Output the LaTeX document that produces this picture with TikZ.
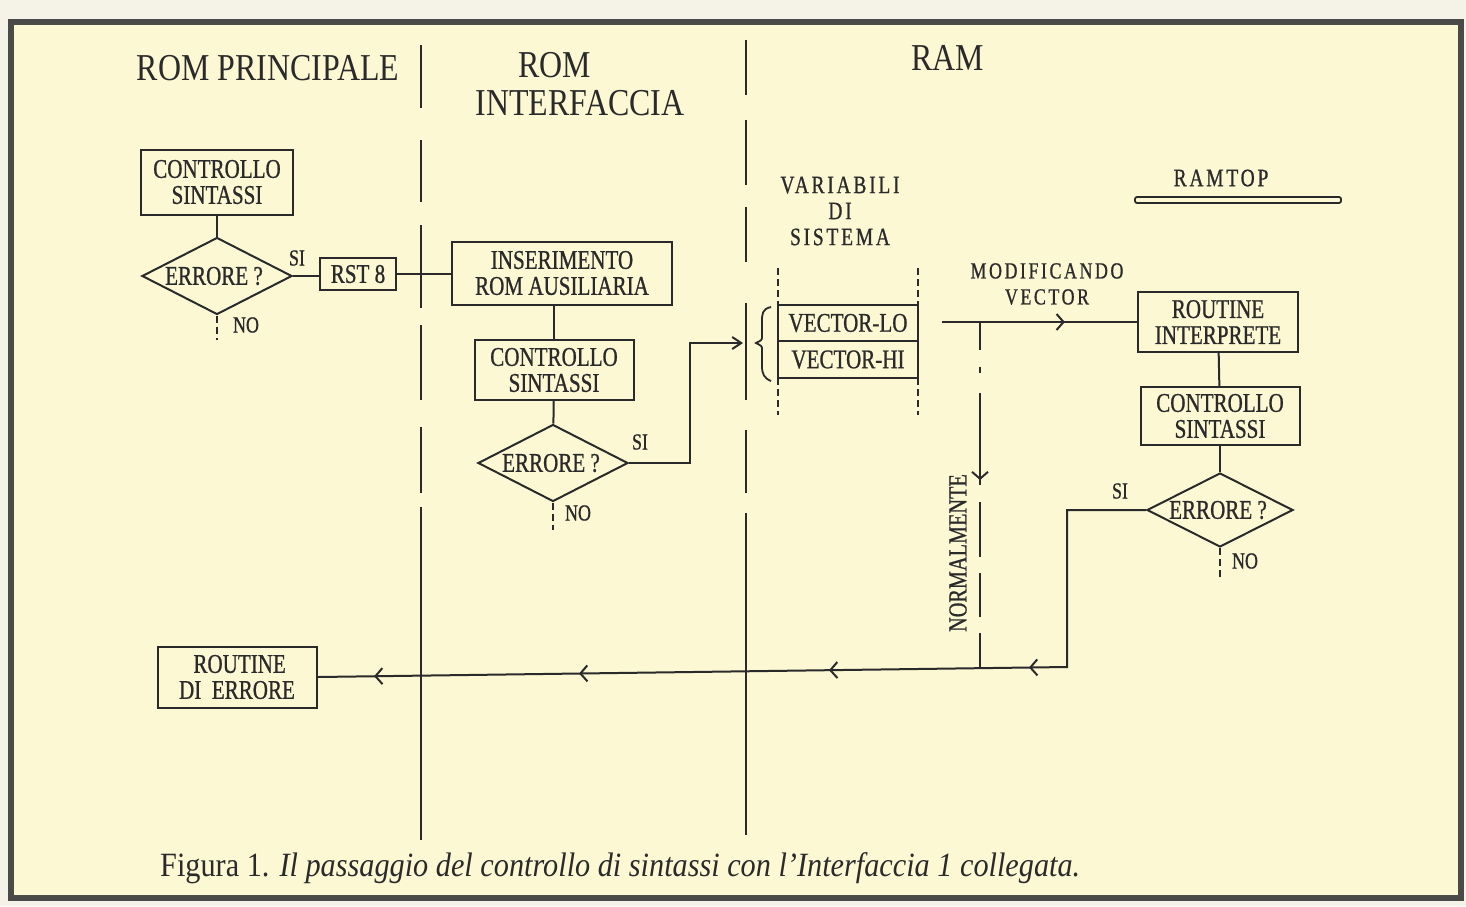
\documentclass[tikz,border=0pt]{standalone}
\usepackage{fontspec}
\setmainfont{Liberation Serif}
\newfontfamily\boxfont[FakeStretch=0.78,FakeBold=0.8]{Liberation Serif}
\newfontfamily\spacedfont[FakeStretch=0.78,FakeBold=0.8,LetterSpace=11]{Liberation Serif}
\newfontfamily\headfont[FakeStretch=0.84]{Liberation Serif}
\newfontfamily\capfont[FakeStretch=0.89]{Liberation Serif}
\usetikzlibrary{shapes.geometric,arrows.meta,decorations.markings}
\definecolor{paper}{HTML}{F5F3E8}
\definecolor{card}{HTML}{FCF8D4}
\definecolor{ink}{HTML}{2A2A2A}
\definecolor{framec}{HTML}{4A4A48}
\tikzset{
  conn/.style={draw=ink, line width=2pt},
  box/.style={draw=ink, line width=2pt, inner sep=0pt, align=center, text=ink,
    font={\boxfont\fontsize{27}{26}\selectfont}},
  dia/.style={diamond, draw=ink, line width=2pt, inner sep=0pt,
    minimum width=150pt, minimum height=77pt},
  dtext/.style={inner sep=0pt, text=ink, font={\boxfont\fontsize{27}{26}\selectfont}},
  lab/.style={inner sep=0pt, text=ink, align=center, font={\boxfont\fontsize{23}{26}\selectfont}},
  head/.style={inner sep=0pt, text=ink, font={\headfont\fontsize{38}{38}\selectfont}},
  txt/.style={inner sep=0pt, text=ink, align=center, font={\spacedfont\fontsize{25}{26}\selectfont}},
  divider/.style={draw=ink, line width=2.2pt},
  noline/.style={draw=ink, line width=2pt, dash pattern=on 7pt off 4pt},
  barb/.tip={Straight Barb[length=7pt,width=16pt,line width=2pt]},
  endarrow/.style={conn, -{Straight Barb[length=9pt,width=12pt,line width=2pt]}},
}
\begin{document}
\begin{tikzpicture}[x=1pt,y=-1pt]
\fill[paper] (0,0) rectangle (1466,906);
\useasboundingbox (0,0) rectangle (1466,906);
\draw[draw=framec, line width=6pt, fill=card] (11,22) rectangle (1461,898);

% headers
\node[head] (h1) at (268,68) {ROM PRINCIPALE};
\node[head] (h2) at (555,65) {ROM};
\node[head] (h3) at (580,103) {INTERFACCIA};
\node[head] (h4) at (948,58) {RAM};

% dividers
\foreach \a/\b in {45/108,140/202,225/308,325/400,427/493,507/840}
  \draw[divider] (421,\a) -- (421,\b);
\foreach \a/\b in {40/95,120/185,207/262,303/400,430/493,513/835}
  \draw[divider] (746,\a) -- (746,\b);

% column 1
\node[box, minimum width=152pt, minimum height=65pt] (cs1) at (217,182) {CONTROLLO\\SINTASSI};
\node[dia] (d1) at (217,276) {};
\node[dtext] at (214,276) {ERRORE ?};
\node[lab] at (297,258) {SI};
\node[lab] at (246,325) {NO};
\coordinate (no1) at (217,340);
\node[box, minimum width=76pt, minimum height=32pt] (rst) at (358,274) {RST 8};

% column 2
\node[box, minimum width=220pt, minimum height=63pt] (ins) at (562,273) {INSERIMENTO\\ROM AUSILIARIA};
\node[box, minimum width=159pt, minimum height=60pt] (cs2) at (554,370) {CONTROLLO\\SINTASSI};
\node[dia] (d2) at (553,463) {};
\node[dtext] at (551,463) {ERRORE ?};
\node[lab] at (640,442) {SI};
\node[lab] at (578,513) {NO};
\coordinate (no2) at (553,530);
\coordinate (up2) at (690,343);
\coordinate (tgt) at (743,343);

% system variables
\node[txt] (var) at (840,211) {VARIABILI\\DI\\SISTEMA};
\node[box, minimum width=140pt, minimum height=36pt] (vlo) at (848,323) {VECTOR-LO};
\node[box, minimum width=140pt, minimum height=37pt] (vhi) at (848,359.5) {VECTOR-HI};
\draw[noline] (778,268) -- (778,305);
\draw[noline] (918,268) -- (918,305);
\draw[noline] (778,378) -- (778,415);
\draw[noline] (918,378) -- (918,415);
\draw[draw=ink, line width=1.8pt] (771,307) .. controls (762,309) and (762,314) .. (762,322)
  -- (762,336) .. controls (762,340) .. (756,343) .. controls (762,346) .. (762,350)
  -- (762,366) .. controls (762,374) and (764,378) .. (771,381);

\node[txt, font={\spacedfont\fontsize{23}{26}\selectfont}] (mod) at (1047,284) {MODIFICANDO\\VECTOR};

% RAMTOP
\node[txt] (ramtop) at (1221,178) {RAMTOP};
\draw[draw=ink, line width=1.8pt, rounded corners=2pt] (1135,197) rectangle (1341,203);

% column 3
\node[box, minimum width=160pt, minimum height=60pt] (ri) at (1218,322) {ROUTINE\\INTERPRETE};
\node[box, minimum width=159pt, minimum height=58pt] (cs3) at (1220,416) {CONTROLLO\\SINTASSI};
\node[dia, minimum width=146pt, minimum height=74pt] (d3) at (1220,510) {};
\node[dtext] at (1218,510) {ERRORE ?};
\node[lab] at (1120,491) {SI};
\node[lab] at (1245,561) {NO};
\coordinate (no3) at (1220,580);

\node[box, minimum width=159pt, minimum height=61pt] (err) at (237,677) {\ ROUTINE\\DI\ \ ERRORE};

\node[lab, rotate=90, font={\boxfont\fontsize{26}{26}\selectfont}] (norm) at (958,553) {NORMALMENTE};

% connectors
\draw[conn] (cs1) -- (d1);
\draw[conn] (d1.east) -- (rst.west |- d1.east);
\draw[conn] (rst.east) -- (ins.west |- rst.east);
\draw[noline] (d1.south) -- (no1);
\draw[conn] (ins.south -| cs2.north) -- (cs2.north);
\draw[conn] (cs2) -- (d2);
\draw[noline] (d2.south) -- (no2);
\draw[endarrow] (d2.east) -| (up2) -- (tgt);
\draw[conn] (ri) -- (cs3);
\draw[conn] (cs3) -- (d3);
\draw[noline] (d3.south) -- (no3);

\coordinate (ms) at (942,322);
\draw[conn, postaction={decorate}, decoration={markings,
   mark=at position 0.63 with {\arrow{barb}}}] (ms) -- (ri.west |- ms);

\coordinate (nt) at (980,322);
\coordinate (nb) at (980,668);
\draw[draw=ink, line width=2pt,
   dash pattern=on 28pt off 17pt on 6pt off 20pt on 92pt off 17pt on 55pt off 16pt on 44pt off 16pt on 40pt off 2pt]
   (nt) -- (nb);
\path[postaction={decorate}, decoration={markings,
   mark=at position 0.457 with {\arrow[draw=ink]{Straight Barb[length=7pt,width=16pt,line width=2pt]}}}] (nt) -- (nb);

\coordinate (c1) at (1067,510);
\coordinate (c2) at (1067,667);
\draw[conn, postaction={decorate}, decoration={markings,
   mark=at position 274pt with {\arrow{barb}},
   mark=at position 474pt with {\arrow{barb}},
   mark=at position 724pt with {\arrow{barb}},
   mark=at position 929pt with {\arrow{barb}}}]
   (d3.west) -- (c1) -- (c2) -- (err.east);

% caption
\node[anchor=west, inner sep=0pt, text=ink, font={\capfont\fontsize{34}{34}\selectfont}] (cap) at (160,868)
  {Figura 1. \textit{Il passaggio del controllo di sintassi con l’Interfaccia 1 collegata.}};
\end{tikzpicture}
\end{document}
